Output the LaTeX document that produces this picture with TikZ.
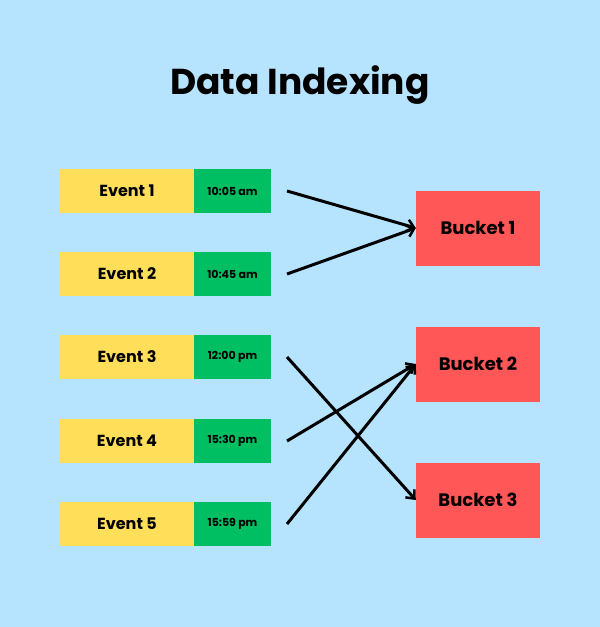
\documentclass[tikz,border=0pt]{standalone}
\usepackage{fontspec}
\setmainfont{Poppins}
\usetikzlibrary{arrows.meta}
\definecolor{bg}{HTML}{B6E3FD}
\definecolor{ev}{HTML}{FFDE59}
\definecolor{tm}{HTML}{00BF63}
\definecolor{bk}{HTML}{FF5757}
\tikzset{
 evbox/.style={fill=ev,minimum width=134pt,minimum height=44pt,inner sep=0pt,font=\fontsize{16}{18}\selectfont\bfseries},
 tmbox/.style={fill=tm,minimum width=77pt,minimum height=44pt,inner sep=0pt,font=\fontsize{11}{13}\selectfont\bfseries},
 bkbox/.style={fill=bk,minimum width=124pt,minimum height=75pt,inner sep=0pt,font=\fontsize{18}{20}\selectfont\bfseries},
 arr/.style={line width=3pt,-{Straight Barb[length=7pt,width=12pt,line width=2.5pt]}}
}
\begin{document}
\begin{tikzpicture}[x=1pt,y=-1pt]
\fill[bg] (0,0) rectangle (600,627);
\useasboundingbox (0,0) rectangle (600,627);
\node[font=\fontsize{36}{40}\selectfont\bfseries] (title) at (300,85) {Data Indexing};
\foreach \i/\y/\t in {1/191/10:05 am,2/274/10:45 am,3/357/12:00 pm,4/441/15:30 pm,5/524/15:59 pm}{
 \node[evbox] (e\i) at (127,\y) {Event \i};
 \node[tmbox] (t\i) at (232.5,\y) {\t};
 \coordinate (s\i) at (287,\y);
}
\node[bkbox] (b1) at (478,228) {Bucket 1};
\node[bkbox] (b2) at (478,364) {Bucket 2};
\node[bkbox] (b3) at (478,500) {Bucket 3};
\draw[arr] (s1) -- (b1.west);
\draw[arr] (s2) -- (b1.west);
\draw[arr] (s3) -- (b3.west);
\draw[arr] (s4) -- (b2.west);
\draw[arr] (s5) -- (b2.west);
\end{tikzpicture}
\end{document}
